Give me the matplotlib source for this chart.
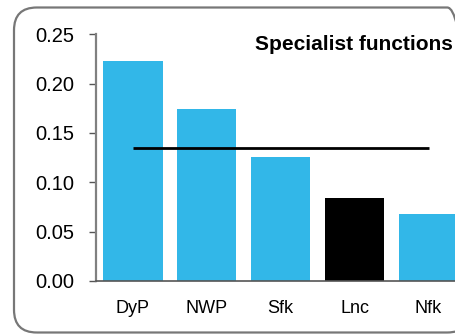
import matplotlib.pyplot as plt
from matplotlib.patches import FancyBboxPatch

plt.rcParams['font.family'] = ['Liberation Sans', 'DejaVu Sans']

# specialist function scores
categories = ['DyP', 'NWP', 'Sfk', 'Lnc', 'Nfk']
values = [0.223, 0.174, 0.126, 0.084, 0.068]
bar_colors = ['#32B7E8', '#32B7E8', '#32B7E8', '#000000', '#32B7E8']
mean_value = 0.135

fig = plt.figure(figsize=(4.55, 3.34), dpi=100)
ax = fig.add_axes([0.211, 0.1587, 0.812, 0.7386])

x = range(len(categories))
ax.bar(x, values, width=0.8, color=bar_colors, zorder=2)
ax.hlines(mean_value, 0, len(categories) - 1, color='black', lw=2, zorder=3)

ax.set_xlim(-0.5, len(categories) - 0.5)
ax.set_ylim(0, 0.25)
ax.set_yticks([0, 0.05, 0.10, 0.15, 0.20, 0.25])
ax.set_yticklabels(['0.00', '0.05', '0.10', '0.15', '0.20', '0.25'])
ax.set_xticks(list(x))
ax.set_xticklabels(categories)

ax.tick_params(axis='y', labelsize=14.5, length=5, width=1, color='#555555', pad=11)
ax.tick_params(axis='x', labelsize=13, length=0, pad=14)

for s in ['top', 'right']:
    ax.spines[s].set_visible(False)
ax.spines['left'].set_color('#808080')
ax.spines['left'].set_linewidth(1.6)
ax.spines['bottom'].set_color('#555555')
ax.spines['bottom'].set_linewidth(1.2)

fig.text(453 / 455, 1 - 49.5 / 334, 'Specialist functions', ha='right', va='baseline',
         fontsize=15, fontweight='bold')

# rounded frame round the whole panel
frame = FancyBboxPatch((14 / 455, 1.5 / 334), 456 / 455, 325 / 334,
                       boxstyle='round,pad=0,rounding_size=0.05',
                       transform=fig.transFigure, fill=False,
                       edgecolor='#777777', lw=1.6, clip_on=False,
                       mutation_aspect=455 / 334)
fig.patches.append(frame)

fig.savefig('out.png', dpi=100)
